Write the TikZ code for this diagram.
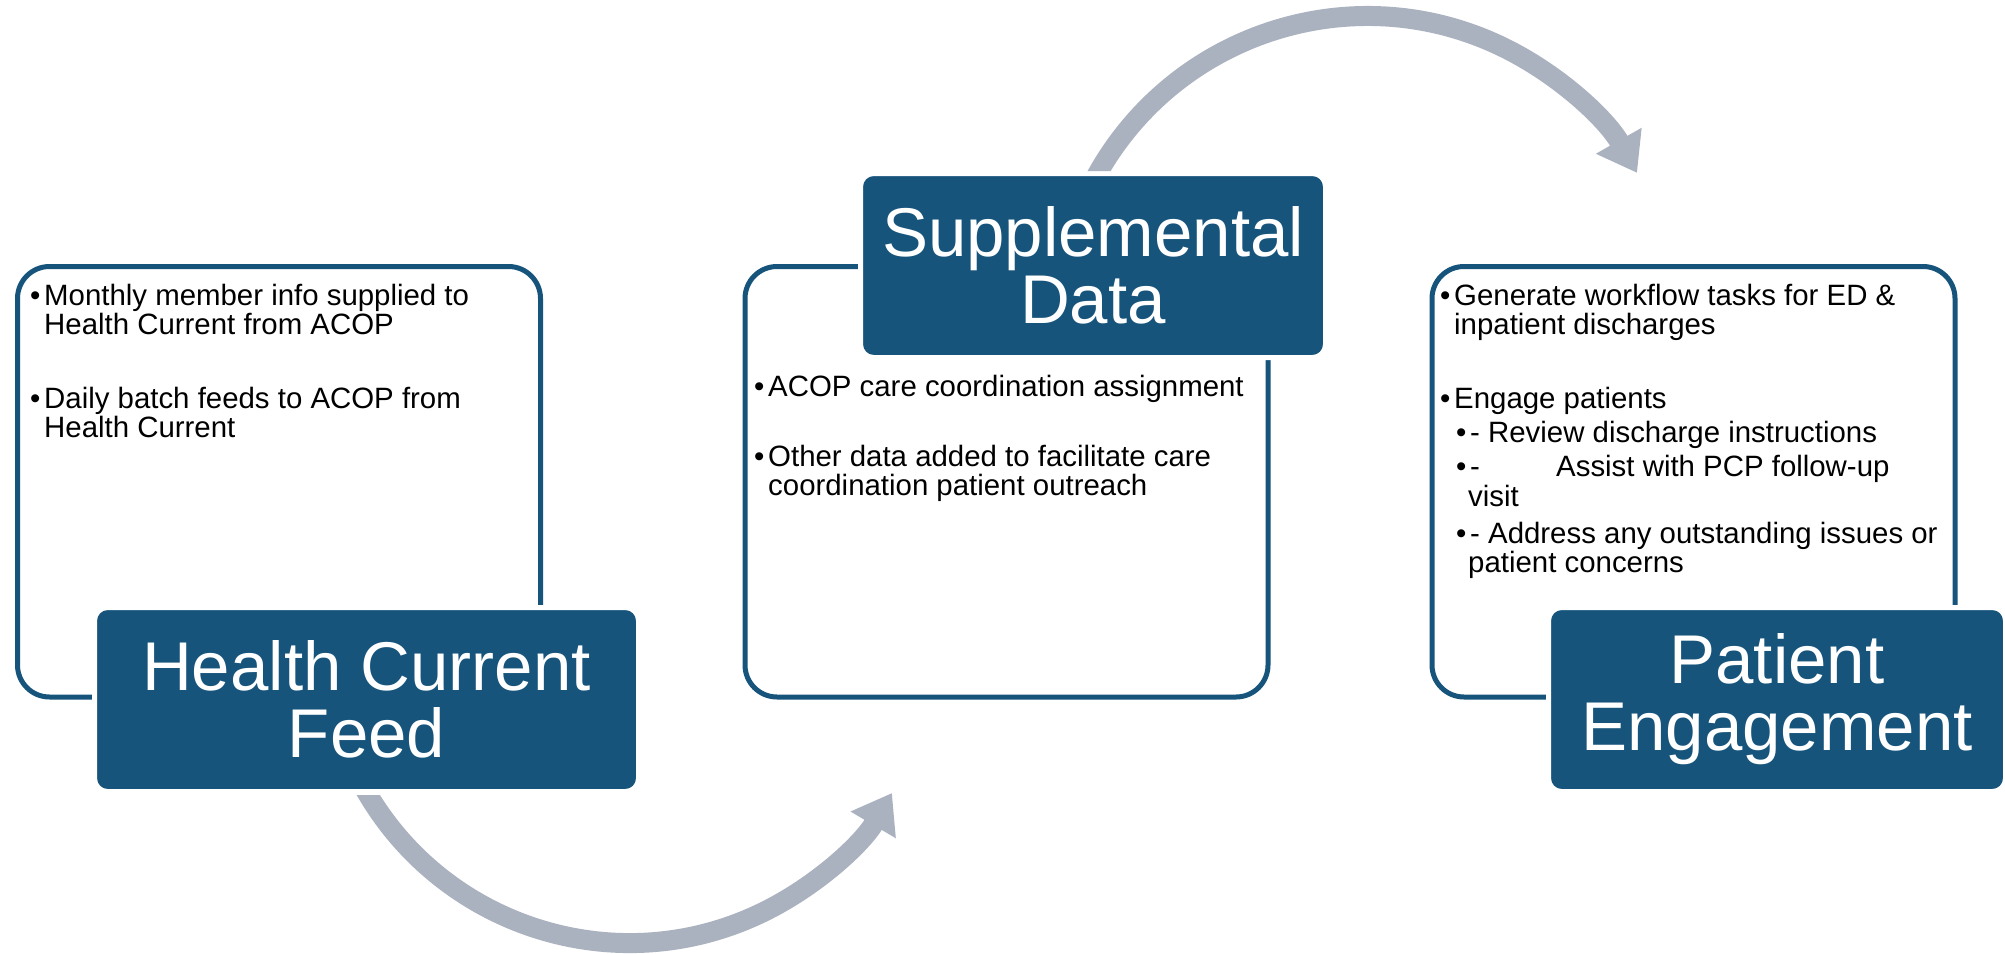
\documentclass[tikz,border=0pt]{standalone}
\usepackage{fontspec}
\setmainfont{Liberation Sans}
\usetikzlibrary{arrows.meta}
\definecolor{hcblue}{RGB}{22,84,124}
\definecolor{arrowgrey}{RGB}{171,178,191}
\begin{document}
\begin{tikzpicture}[x=1pt,y=-1pt,
  whitebox/.style={draw=hcblue, line width=5pt, rounded corners=32pt, minimum width=523pt, minimum height=430.5pt, inner sep=0pt, fill=white},
  darkbox/.style={fill=hcblue, draw=white, line width=5pt, rounded corners=13pt, inner sep=0pt, text=white, font=\fontsize{69}{67}\selectfont, align=center, minimum height=184pt},
  bodytext/.style={anchor=north west, inner sep=0pt, align=left, font=\fontsize{29.4}{29.5}\selectfont, text=black},
  flow/.style={draw=arrowgrey, line width=20pt, -{Triangle[length=37pt,width=50pt]}}
]
\useasboundingbox (0,0) rectangle (2005,953);
\fill[white] (0,0) rectangle (2005,953);

% white content boxes
\node[whitebox] (wb1) at (279,481.75) {};
\node[whitebox] (wb2) at (1006.5,481.75) {};
\node[whitebox] (wb3) at (1693.5,481.75) {};

% body texts
\node[bodytext] (t1) at (30,281) {\makebox[14pt][l]{•}\rule{0pt}{24pt}Monthly member info supplied to\\
\hspace*{14pt}Health Current from ACOP\\[44pt]
\makebox[14pt][l]{•}Daily batch feeds to ACOP from\\
\hspace*{14pt}Health Current};

\node[bodytext] (t2) at (754,372) {\makebox[14pt][l]{•}\rule{0pt}{24pt}ACOP care coordination assignment\\[40.5pt]
\makebox[14pt][l]{•}Other data added to facilitate care\\
\hspace*{14pt}coordination patient outreach};

\node[bodytext] (t3) at (1440,281) {\makebox[14pt][l]{•}\rule{0pt}{24pt}Generate workflow tasks for ED \&\\
\hspace*{14pt}inpatient discharges\\[44.5pt]
\makebox[14pt][l]{•}Engage patients\\[4.5pt]
\hspace*{16pt}\makebox[14pt][l]{•}- Review discharge instructions\\[4.5pt]
\hspace*{16pt}\makebox[14pt][l]{•}\makebox[86pt][l]{-}Assist with PCP follow-up\\
\hspace*{28pt}visit\\[7.5pt]
\hspace*{16pt}\makebox[14pt][l]{•}- Address any outstanding issues or\\
\hspace*{28pt}patient concerns};

% dark title boxes
\node[darkbox, minimum width=544pt] (db1) at (366.5,699.5) {Health Current\\Feed};
\node[darkbox, minimum width=465pt] (db2) at (1093,265.5) {Supplemental\\Data};
\node[darkbox, minimum width=457pt] (db3) at (1777,699.5) {Patient\\Engagement};

% arrows
\begin{scope}
\clip (0,795) -- (629,795) -- (629,0) -- (2005,0) -- (2005,953) -- (0,953) -- cycle;
\coordinate (a1s) at (358.1,776.7);
\draw[flow] (a1s) arc[start angle=153, end angle=30.5, radius=304.6];
\end{scope}
\begin{scope}
\clip (0,171) -- (1367,171) -- (1367,953) -- (2005,953) -- (2005,0) -- (0,0) -- cycle;
\coordinate (a2s) at (1091.3,185.3);
\draw[flow] (a2s) arc[start angle=207, end angle=330.4, radius=310];
\end{scope}
\end{tikzpicture}
\end{document}
